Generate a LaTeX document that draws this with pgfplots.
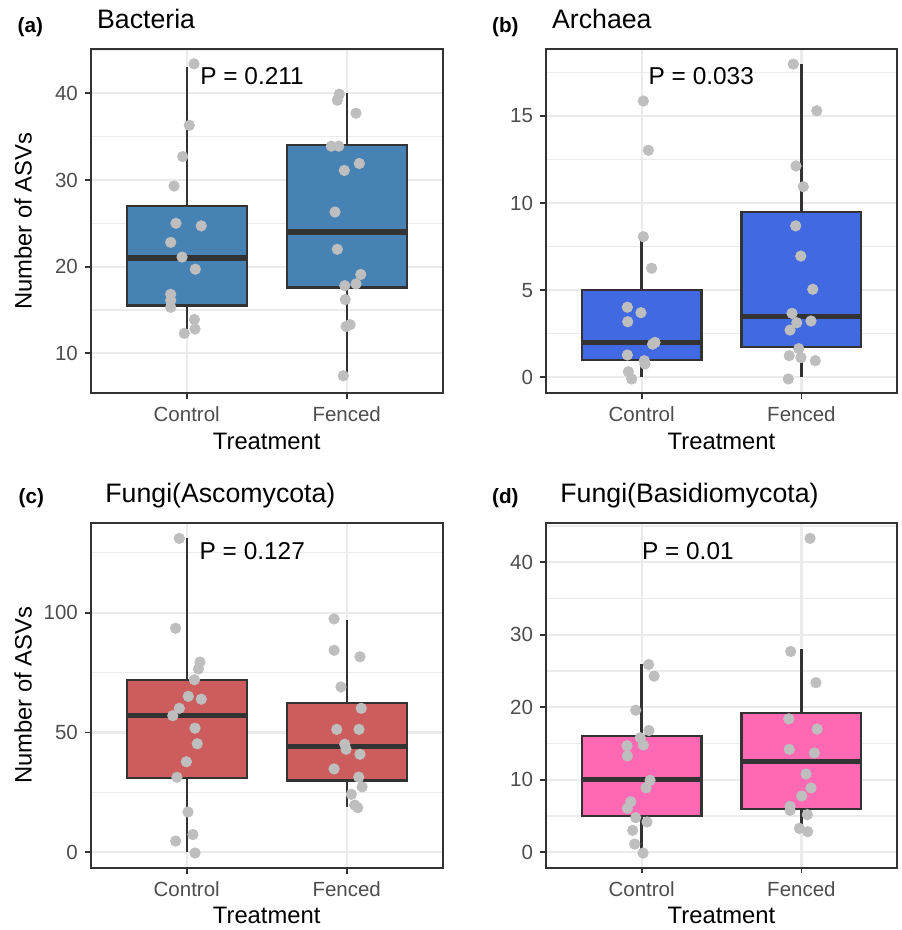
\documentclass[border=0pt]{standalone}
\usepackage{fontspec}
\setmainfont{Liberation Sans}
\usepackage{pgfplots}
\pgfplotsset{compat=1.18}
\usepgfplotslibrary{statistics}
\definecolor{frame}{HTML}{333333}
\definecolor{gridc}{HTML}{EBEBEB}
\definecolor{tickc}{HTML}{4D4D4D}
\definecolor{ptc}{HTML}{BEBEBE}
\definecolor{cA}{HTML}{4682B4}
\definecolor{cB}{HTML}{4169E1}
\definecolor{cC}{HTML}{CD5C5C}
\definecolor{cD}{HTML}{FF69B4}
\pgfplotsset{
  ggpanel/.style={
    scale only axis, anchor=south west,
    xmin=0.4, xmax=2.6, xtick={1,2}, xticklabels={Control,Fenced},
    axis line style={draw=frame, line width=0.9pt},
    tick align=outside, major tick length=2.9pt, minor tick length=0pt,
    xtick pos=left, ytick pos=left,
    tick style={draw=frame, line width=0.9pt},
    xmajorgrids, ymajorgrids, yminorgrids,
    major grid style={draw=gridc, line width=1.1pt},
    minor grid style={draw=gridc, line width=0.6pt},
    tick label style={font=\fontsize{10.25}{12}\selectfont, text=tickc},
    /pgf/number format/assume math mode=true,
    yticklabel style={anchor=east, inner sep=0pt, xshift=-3.3pt},
    xticklabel style={anchor=north, inner sep=0pt, yshift=-3.8pt},
    boxplot/draw direction=y,
    boxplot/every median/.style={line width=2.6pt},
    boxplot/every whisker/.style={line width=1.2pt},
    boxplot/every box/.style={line width=1.1pt},
  },
  bx/.style={draw=frame, line width=1.1pt, solid, mark=none},
  pts/.style={only marks, mark=*, mark size=2.6pt, color=ptc},
}
\begin{document}
\begin{tikzpicture}
\path[use as bounding box] (0pt,0pt) rectangle (450.5pt,465pt);
% (a) Bacteria
\begin{axis}[ggpanel, at={(45.35pt,268.35pt)}, width=176pt, height=172pt,
  ymin=5.38, ymax=45.08, ytick={10,20,30,40}, minor ytick={15,25,35,45}]
\addplot[bx, fill=cA, boxplot prepared={draw position=1, lower whisker=12.5, lower quartile=15.5, median=21, upper quartile=27, upper whisker=43, box extend=0.75, whisker extend=0}] coordinates {};
\addplot[bx, fill=cA, boxplot prepared={draw position=2, lower whisker=7.5, lower quartile=17.6, median=24, upper quartile=34, upper whisker=40, box extend=0.75, whisker extend=0}] coordinates {};
\addplot[pts] coordinates {
(1.046,43.4) (1.016,36.3) (0.975,32.7) (0.921,29.3) (0.933,25.0) (1.091,24.7) (0.900,22.8) (0.971,21.1) (1.054,19.7) (0.900,16.8) (0.900,16.1) (0.900,15.3) (1.048,13.9) (1.052,12.8) (0.985,12.3)
(1.954,39.9) (1.941,39.2) (2.058,37.7) (1.904,33.9) (1.950,33.9) (2.079,31.9) (1.985,31.1) (1.927,26.3) (1.941,22.0) (2.088,19.1) (2.058,18.0) (1.988,17.8) (1.991,16.2) (2.021,13.3) (1.996,13.1) (1.979,7.4)
};
\end{axis}
% (b) Archaea
\begin{axis}[ggpanel, at={(272.85pt,268.35pt)}, width=175.8pt, height=172pt,
  ymin=-0.92, ymax=18.83, ytick={0,5,10,15}, minor ytick={2.5,7.5,12.5,17.5}]
\addplot[bx, fill=cB, boxplot prepared={draw position=1, lower whisker=0, lower quartile=1, median=2, upper quartile=5, upper whisker=8, box extend=0.75, whisker extend=0}] coordinates {};
\addplot[bx, fill=cB, boxplot prepared={draw position=2, lower whisker=0, lower quartile=1.75, median=3.5, upper quartile=9.5, upper whisker=18, box extend=0.75, whisker extend=0}] coordinates {};
\addplot[pts] coordinates {
(1.011,15.86) (1.042,13.03) (1.011,8.07) (1.063,6.26) (0.911,4.02) (0.996,3.71) (0.913,3.19) (1.084,2.0) (1.069,1.9) (0.911,1.28) (1.017,0.95) (1.021,0.76) (0.917,0.32) (0.938,-0.1)
(1.949,17.98) (2.096,15.3) (1.966,12.13) (2.012,10.94) (1.964,8.69) (1.996,6.96) (2.071,5.05) (1.941,3.67) (2.060,3.23) (1.971,3.13) (1.929,2.71) (1.983,1.64) (1.924,1.24) (1.997,1.13) (2.087,0.95) (1.918,-0.1)
};
\end{axis}
% (c) Ascomycota
\begin{axis}[ggpanel, at={(45.35pt,31.15pt)}, width=176pt, height=172.5pt,
  ymin=-6.43, ymax=137.56, ytick={0,50,100}, minor ytick={25,75,125}]
\addplot[bx, fill=cC, boxplot prepared={draw position=1, lower whisker=0, lower quartile=31, median=57, upper quartile=72, upper whisker=131, box extend=0.75, whisker extend=0}] coordinates {};
\addplot[bx, fill=cC, boxplot prepared={draw position=2, lower whisker=19, lower quartile=30, median=44.2, upper quartile=62.2, upper whisker=97, box extend=0.75, whisker extend=0}] coordinates {};
\addplot[pts] coordinates {
(0.954,131.0) (0.931,93.5) (1.083,79.4) (1.073,76.5) (1.048,72.0) (1.010,65.1) (1.091,63.9) (0.954,60.1) (0.913,57.0) (1.052,51.8) (1.066,45.3) (0.998,37.8) (0.939,31.3) (1.008,16.8) (1.039,7.4) (0.931,4.7) (1.052,-0.3)
(1.921,97.4) (1.921,84.3) (2.083,81.6) (1.964,69.0) (2.091,60.1) (1.938,51.3) (2.077,51.3) (1.988,45.1) (1.996,43.0) (2.083,40.9) (1.921,34.8) (2.075,31.4) (2.096,27.3) (2.029,24.2) (2.050,19.7) (2.069,18.6)
};
\end{axis}
% (d) Basidiomycota
\begin{axis}[ggpanel, at={(272.85pt,31.15pt)}, width=175.8pt, height=172.5pt,
  ymin=-2.12, ymax=45.46, ytick={0,10,20,30,40}, minor ytick={5,15,25,35,45}]
\addplot[bx, fill=cD, boxplot prepared={draw position=1, lower whisker=0, lower quartile=5, median=10, upper quartile=16, upper whisker=26, box extend=0.75, whisker extend=0}] coordinates {};
\addplot[bx, fill=cD, boxplot prepared={draw position=2, lower whisker=3, lower quartile=6, median=12.5, upper quartile=19.25, upper whisker=28, box extend=0.75, whisker extend=0}] coordinates {};
\addplot[pts] coordinates {
(1.044,25.9) (1.078,24.3) (0.963,19.6) (1.046,16.8) (0.992,15.8) (1.011,14.8) (0.909,14.7) (0.911,13.3) (1.053,9.93) (1.028,8.9) (0.932,6.98) (0.911,6.07) (0.963,4.78) (1.034,4.18) (0.944,3.03) (0.957,1.14) (1.009,-0.1)
(2.054,43.3) (1.933,27.7) (2.091,23.4) (1.921,18.4) (2.099,17.0) (1.924,14.2) (2.081,13.7) (2.029,10.8) (2.060,8.87) (2.002,7.77) (1.929,6.34) (1.929,5.79) (2.037,5.19) (1.987,3.31) (2.039,2.85)
};
\end{axis}
\begin{scope}[x=0.5pt, y=0.5pt]
\tikzset{tag/.style={anchor=base west, inner sep=0pt, font=\fontsize{10.35}{12}\selectfont\bfseries},
  ttl/.style={anchor=base west, inner sep=0pt, font=\fontsize{13.35}{15}\selectfont},
  pv/.style={anchor=base west, inner sep=0pt, font=\fontsize{12.2}{14}\selectfont},
  axt/.style={anchor=base, inner sep=0pt, font=\fontsize{11.9}{14}\selectfont}}
\node[tag] at (17.3,897) {(a)};
\node[ttl] at (96.7,901) {Bacteria};
\node[tag] at (491.7,897) {(b)};
\node[ttl] at (551.7,901) {Archaea};
\node[tag] at (18.3,426) {(c)};
\node[ttl] at (105,427.5) {Fungi(Ascomycota)};
\node[tag] at (491.7,426) {(d)};
\node[ttl] at (560,427.5) {Fungi(Basidiomycota)};
\node[pv] at (200,845) {P = 0.211};
\node[pv] at (648.3,845) {P = 0.033};
\node[pv] at (199.3,370) {P = 0.127};
\node[pv] at (641.7,370) {P = 0.01};
\node[axt] at (266.7,480) {Treatment};
\node[axt] at (721.5,480) {Treatment};
\node[axt] at (266.7,6.6) {Treatment};
\node[axt] at (721.5,6.6) {Treatment};
\node[axt, rotate=90] at (31.5,708.7) {Number of ASVs};
\node[axt, rotate=90] at (31.5,234.8) {Number of ASVs};
\end{scope}
\end{tikzpicture}
\end{document}
